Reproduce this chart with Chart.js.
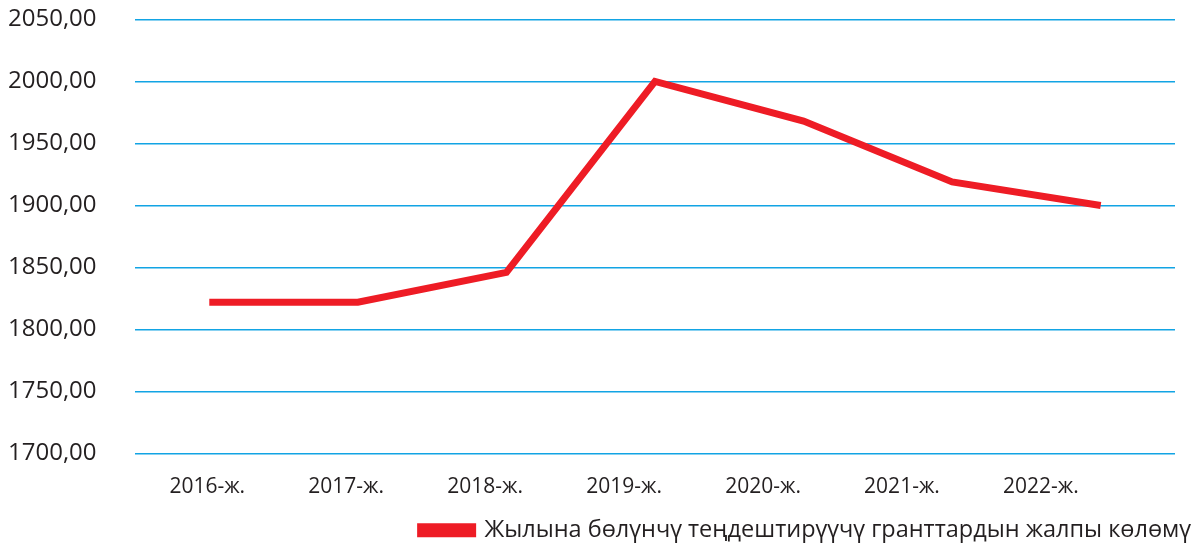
<!DOCTYPE html>
<html><head><meta charset="utf-8">
<script src="https://cdn.jsdelivr.net/npm/chart.js@4/dist/chart.umd.min.js"></script>
<style>html,body{margin:0;padding:0;background:#fff}#w{width:1191px;height:547px}</style>
</head><body><div id="w"><canvas id="c"></canvas></div>
<script>
const categories = ["2016-ж.","2017-ж.","2018-ж.","2019-ж.","2020-ж.","2021-ж.","2022-ж."];
const values = [1822, 1822, 1846, 2000, 1968, 1919, 1900];
const seriesName = "Жылына бөлүнчү теңдештирүүчү гранттардын жалпы көлөмү";
const yMin = 1700, yMax = 2050, yStep = 50;
// the year labels in the source sit on a slightly tighter spacing than the points
const labelAxisMin = -0.52, labelAxisMax = 6.965;

const txt = '#231f20';
new Chart(document.getElementById('c'), {
  type: 'line',
  data: { labels: categories, datasets: [{
    label: seriesName, data: values,
    borderColor: '#ee1c25', backgroundColor: '#ee1c25',
    borderWidth: 7, pointRadius: 0, tension: 0, borderJoinStyle: 'miter', borderCapStyle: 'butt'
  }]},
  options: {
    responsive: true, maintainAspectRatio: false, animation: false,
    layout: { padding: { left: 8, right: 0, top: 0, bottom: -5 } },
    plugins: {
      tooltip: { enabled: false },
      legend: { position: 'bottom', align: 'end',
        labels: { boxWidth: 52, boxHeight: 7, color: txt, padding: 0,
          font: { family: 'Open Sans', size: 23.5 } } }
    },
    scales: {
      x: { display: false, offset: true },
      xl: { type: 'linear', position: 'bottom', min: labelAxisMin, max: labelAxisMax,
        grid: { display: false }, border: { display: false },
        afterFit: s => { s.height = 65; },
        ticks: { stepSize: 1, includeBounds: false, autoSkip: false, maxRotation: 0,
          color: txt, font: { family: 'Open Sans', size: 21 }, padding: 13,
          callback: v => (Number.isInteger(v) && categories[v] !== undefined) ? categories[v] : '' } },
      y: { min: yMin, max: yMax, border: { display: false },
        grid: { color: '#12a4e4', lineWidth: 1.4, drawTicks: false },
        afterFit: s => { s.width = 127; },
        ticks: { stepSize: yStep, color: txt, padding: 5, crossAlign: 'far',
          font: { family: 'Open Sans', size: 24 },
          callback: v => v.toFixed(2).replace('.', ',') } },
      yr: { position: 'right', min: yMin, max: yMax, grid: { display: false }, border: { display: false },
        ticks: { display: false }, afterFit: s => { s.width = 16; } }
    }
  }
});
</script></body></html>
